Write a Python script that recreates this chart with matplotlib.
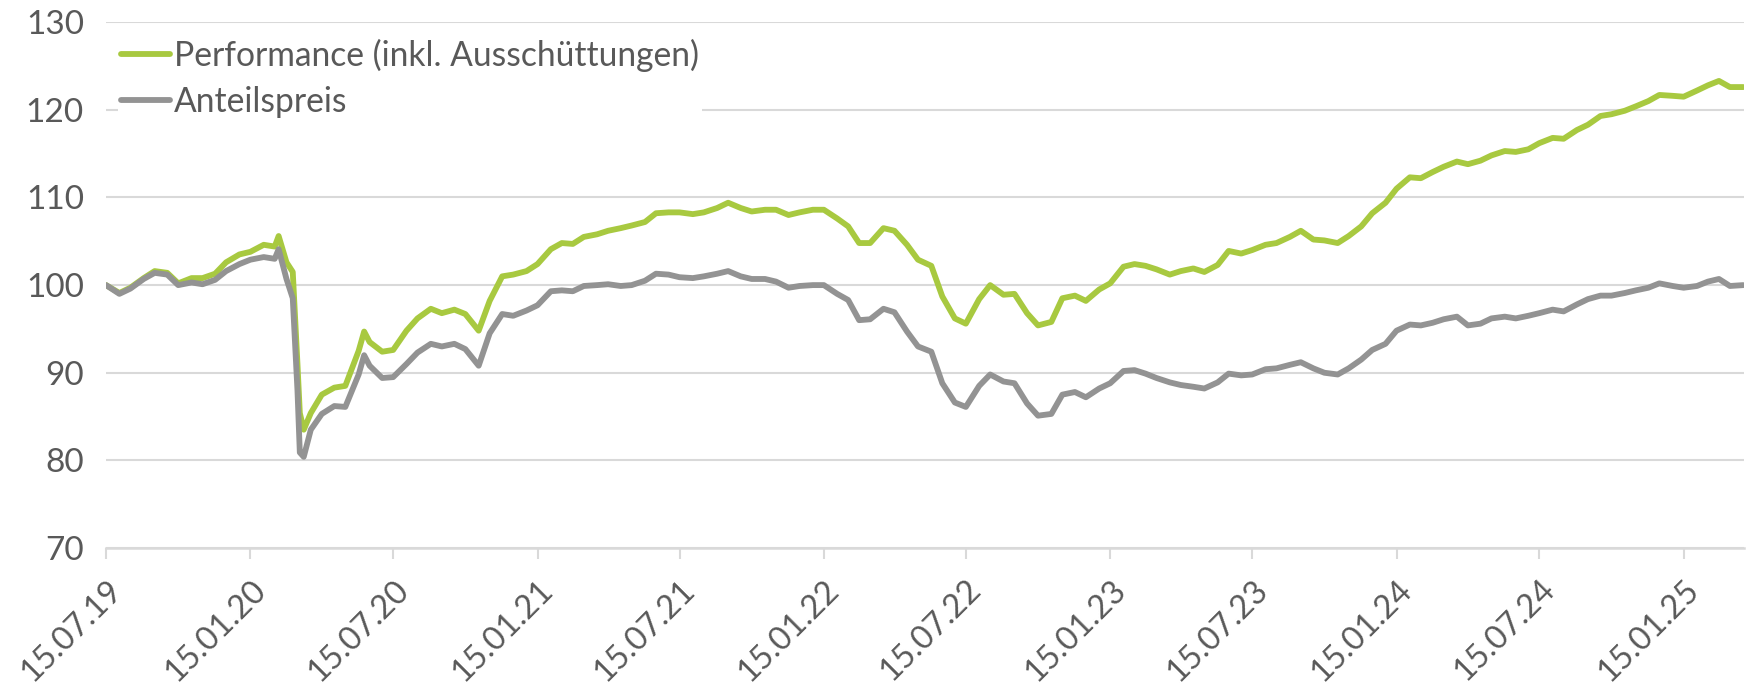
import matplotlib
matplotlib.use("Agg")
import matplotlib.pyplot as plt
import matplotlib.dates as mdates
import pandas as pd

plt.rcParams['font.family'] = ['Lato', 'DejaVu Sans']

# semi-monthly sampling (1st and 15th) plus a few dates around sharp moves
base_dates = pd.date_range('2019-07-15', '2025-04-01', freq='SMS')
extra_dates = pd.to_datetime(['2020-02-20', '2020-03-09', '2020-03-18', '2020-03-23', '2020-06-08'])
dates = base_dates.union(extra_dates)

# Performance (inkl. Ausschuettungen)
performance = [
    100.0, 99.1, 99.7, 100.8, 101.6, 101.4, 100.2, 100.8, 100.8, 101.3, 102.6,  # 2019
    103.5, 103.8, 104.6, 104.4, 105.6, 102.6, 101.5, 91.0, 85.4, 83.5, 85.4, 87.5, 88.3, 88.5,
    92.5, 94.7, 93.5, 92.4, 92.6, 94.8, 96.2, 97.3, 96.8, 97.2, 96.7, 94.8, 98.2, 101.0, 101.2,  # 2020
    101.6, 102.4, 104.1, 104.8, 104.7, 105.5, 105.8, 106.2, 106.5, 106.8, 107.2, 108.2,
    108.3, 108.3, 108.1, 108.3, 108.8, 109.4, 108.8, 108.4, 108.6, 108.6, 108.0, 108.3,  # 2021
    108.6, 108.6, 107.6, 106.7, 104.8, 104.8, 106.5, 106.2, 104.6, 102.9, 102.2, 98.7,
    96.2, 95.6, 98.4, 100.0, 98.9, 99.0, 96.8, 95.4, 95.8, 98.5, 98.8, 98.2,  # 2022
    99.5, 100.2, 102.1, 102.4, 102.2, 101.8, 101.2, 101.6, 101.9, 101.5, 102.3, 103.9,
    103.6, 104.0, 104.6, 104.8, 105.5, 106.2, 105.2, 105.1, 104.8, 105.6, 106.7, 108.2,  # 2023
    109.4, 111.0, 112.3, 112.2, 112.9, 113.5, 114.1, 113.8, 114.2, 114.8, 115.3, 115.2,
    115.5, 116.2, 116.8, 116.7, 117.7, 118.3, 119.3, 119.5, 119.9, 120.4, 121.0, 121.7,  # 2024
    121.6, 121.5, 122.2, 122.8, 123.3, 122.6, 122.6,  # 2025
]

# Anteilspreis
price = [
    100.0, 99.0, 99.6, 100.7, 101.4, 101.2, 100.0, 100.3, 100.1, 100.6, 101.6,  # 2019
    102.4, 102.9, 103.2, 103.0, 104.1, 100.7, 98.5, 88.0, 80.9, 80.4, 83.5, 85.3, 86.2, 86.1,
    89.8, 92.0, 90.8, 89.4, 89.5, 91.0, 92.3, 93.3, 93.0, 93.3, 92.7, 90.8, 94.5, 96.7, 96.5,  # 2020
    97.1, 97.7, 99.3, 99.4, 99.3, 99.9, 100.0, 100.1, 99.9, 100.0, 100.5, 101.3,
    101.2, 100.9, 100.8, 101.0, 101.3, 101.6, 101.0, 100.7, 100.7, 100.4, 99.7, 99.9,  # 2021
    100.0, 100.0, 99.0, 98.3, 96.0, 96.1, 97.3, 96.9, 94.7, 93.0, 92.4, 88.8,
    86.6, 86.1, 88.5, 89.8, 89.0, 88.8, 86.5, 85.1, 85.3, 87.5, 87.8, 87.2,  # 2022
    88.2, 88.8, 90.2, 90.3, 89.9, 89.4, 88.9, 88.6, 88.4, 88.2, 88.9, 89.9,
    89.7, 89.8, 90.4, 90.5, 90.9, 91.2, 90.5, 90.0, 89.8, 90.5, 91.5, 92.6,  # 2023
    93.3, 94.8, 95.5, 95.4, 95.7, 96.1, 96.4, 95.4, 95.6, 96.2, 96.4, 96.2,
    96.5, 96.8, 97.2, 97.0, 97.8, 98.4, 98.8, 98.8, 99.1, 99.4, 99.7, 100.2,  # 2024
    99.9, 99.7, 99.9, 100.4, 100.7, 99.9, 100.0,  # 2025
]

tick_dates = pd.to_datetime(['2019-07-15', '2020-01-15', '2020-07-15', '2021-01-15', '2021-07-15',
                             '2022-01-15', '2022-07-15', '2023-01-15', '2023-07-15', '2024-01-15',
                             '2024-07-15', '2025-01-15'])
y_ticks = [70, 80, 90, 100, 110, 120, 130]

green = '#A8C940'
gray = '#939393'
text_col = '#595959'
grid_col = '#D9D9D9'

fig = plt.figure(figsize=(17.5, 6.9), dpi=100)
ax = fig.add_axes([0.0606, 0.2058, 0.936, 0.762])

ax.plot(dates, performance, color=green, lw=4.2, label='Performance (inkl. Ausschüttungen)',
        solid_joinstyle='round', solid_capstyle='round', zorder=3)
ax.plot(dates, price, color=gray, lw=4.2, label='Anteilspreis',
        solid_joinstyle='round', solid_capstyle='round', zorder=4)

ax.set_ylim(70, 130)
ax.set_xlim(pd.Timestamp('2019-07-15'), pd.Timestamp('2025-04-02'))
ax.set_yticks(y_ticks)
ax.set_xticks(tick_dates)
ax.xaxis.set_major_formatter(mdates.DateFormatter('%d.%m.%y'))

ax.grid(axis='y', color=grid_col, lw=1.5, zorder=0)
ax.set_axisbelow(True)
for s in ['top', 'right', 'left']:
    ax.spines[s].set_visible(False)
ax.spines['bottom'].set_color(grid_col)
ax.spines['bottom'].set_linewidth(1.8)

ax.tick_params(axis='y', length=0, pad=16, labelsize=24, labelcolor=text_col)
ax.tick_params(axis='x', length=8, width=1.5, color=grid_col, pad=11, labelsize=23.5, labelcolor=text_col)
for lbl in ax.get_xticklabels():
    lbl.set_rotation(45)
    lbl.set_ha('right')
    lbl.set_rotation_mode('anchor')

leg = ax.legend(loc='upper left', bbox_to_anchor=(0.007, 0.975), frameon=True, fontsize=24.2,
                handlelength=1.45, handletextpad=0.12, labelspacing=0.42, borderpad=0.1,
                borderaxespad=0.0)
leg.get_frame().set_facecolor('white')
leg.get_frame().set_edgecolor('none')
leg.get_frame().set_alpha(1)
leg.set_zorder(5)
for t in leg.get_texts():
    t.set_color(text_col)

fig.savefig('out.png', dpi=100)
